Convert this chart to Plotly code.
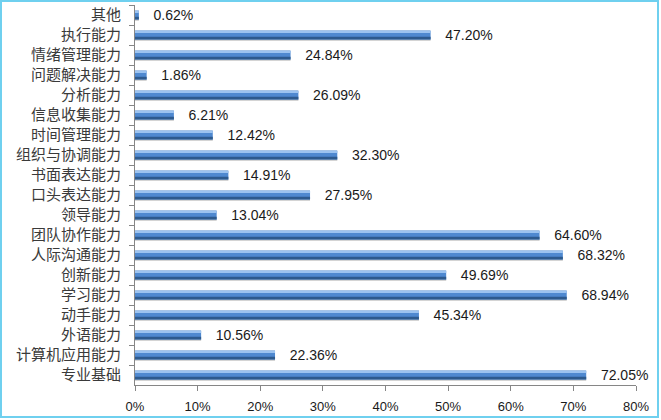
import plotly.graph_objects as go

# ── Data (top to bottom as shown) ────────────────────────────────────────────
categories = [
    "其他", "执行能力", "情绪管理能力", "问题解决能力", "分析能力",
    "信息收集能力", "时间管理能力", "组织与协调能力", "书面表达能力",
    "口头表达能力", "领导能力", "团队协作能力", "人际沟通能力", "创新能力",
    "学习能力", "动手能力", "外语能力", "计算机应用能力", "专业基础",
]
shares = [
    0.0062, 0.4720, 0.2484, 0.0186, 0.2609,
    0.0621, 0.1242, 0.3230, 0.1491,
    0.2795, 0.1304, 0.6460, 0.6832, 0.4969,
    0.6894, 0.4534, 0.1056, 0.2236, 0.7205,
]
x_ticks = [0, 0.1, 0.2, 0.3, 0.4, 0.5, 0.6, 0.7, 0.8]

# ── Style tokens ─────────────────────────────────────────────────────────────
_BAR    = "#4F89D0"
_DARK   = "#2D5A8E"
_SHINE  = "#9CC3F0"
_SHADOW = "#D4D4D4"
_AXIS   = "#868686"
_TEXT   = "#1A1A1A"
_LABEL  = "#3A3A3A"
_BORDER = "#6FD0EF"
_FONT   = "Liberation Sans, Arial, sans-serif"
_CJK    = "Noto Sans CJK SC, sans-serif"

W, H = 661, 420
L, R, T, B = 135, 25, 5, 35
pw, ph = W - L - R, H - T - B


def _stripe(color, offset, width):
    # thin overlay bar used to fake the 3-D bevel on each bar
    return go.Bar(
        x=shares, y=categories, orientation="h",
        width=width, offset=offset,
        marker=dict(color=color, line=dict(width=0)),
        hoverinfo="skip",
    )


fig = go.Figure()
fig.add_trace(_stripe(_SHADOW, 0.2, 0.1))
fig.add_trace(go.Bar(
    x=shares, y=categories,
    orientation="h",
    width=0.45, offset=-0.225,
    marker=dict(color=_BAR, line=dict(width=0)),
    text=shares,
    texttemplate="   %{x:.2%}",
    textposition="outside",
    textfont=dict(family=_FONT, size=14, color=_TEXT),
    constraintext="none",
    cliponaxis=False,
    hoverinfo="skip",
))
fig.add_trace(_stripe(_SHINE, -0.2, 0.1))
fig.add_trace(_stripe(_DARK, 0.09, 0.135))

fig.update_layout(
    template=None,
    width=W, height=H,
    paper_bgcolor="#FFFFFF",
    plot_bgcolor="#FFFFFF",
    showlegend=False,
    barmode="overlay",
    margin=dict(l=L, r=R, t=T, b=B, autoexpand=False),
    font=dict(family=_FONT, color=_TEXT),
    xaxis=dict(
        range=[0, 0.8],
        tickvals=x_ticks,
        tickformat=".0%",
        automargin=False,
        showgrid=False, zeroline=False,
        showline=True, linecolor=_AXIS, linewidth=1,
        ticks="outside", ticklen=5, tickcolor=_AXIS,
        ticklabelstandoff=4,
        tickfont=dict(family=_FONT, size=13, color=_TEXT),
    ),
    yaxis=dict(
        autorange="reversed",
        automargin=False,
        showgrid=False, zeroline=False,
        showline=True, linecolor=_AXIS, linewidth=1,
        ticks="outside", ticklen=5, tickcolor=_AXIS,
        tickson="boundaries",
        ticklabelstandoff=10,
        tickfont=dict(family=_CJK, size=15, color=_LABEL),
    ),
    shapes=[dict(
        type="rect", xref="paper", yref="paper",
        x0=-(L - 1) / pw, x1=1 + (R - 3) / pw,
        y0=-(B - 3) / ph, y1=1 + (T - 1) / ph,
        line=dict(color=_BORDER, width=2),
    )],
)

# drop the browser's default body margin so the chart fills the window
fig.write_html(
    "out.html",
    config={"displayModeBar": False},
    post_script="document.body.style.margin='0';",
)
